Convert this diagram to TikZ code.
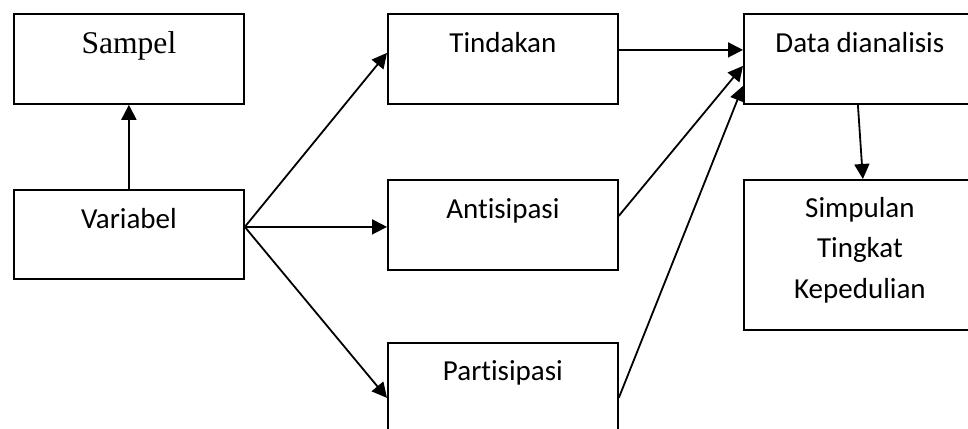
\documentclass[tikz,border=0pt]{standalone}
\usepackage{fontspec}
\setmainfont{Carlito}[Ligatures=NoCommon]
\newfontfamily\serifbox{Liberation Serif}
\usetikzlibrary{arrows.meta,calc}

\begin{document}
\begin{tikzpicture}[x=0.5pt, y=-0.5pt,
		kotak/.style={draw, line width=0.9pt, inner sep=0pt, anchor=north west, minimum width=115pt, minimum height=45pt},
		teks/.style={anchor=base, align=center, inner sep=0pt, font=\fontsize{14.5}{20.25}\selectfont},
		panah/.style={-{Triangle[length=7.5pt, width=7.5pt]}, line width=0.9pt}]
		\useasboundingbox (0, 0) rectangle (968, 428);
	
		% kotak
		\node[kotak] (sampel) at (13, 13) {};
		\node[kotak, minimum height=44.5pt] (variabel) at (13, 189) {};
		\node[kotak] (tindakan) at (387, 13) {};
		\node[kotak] (antisipasi) at (387, 179) {};
		\node[kotak] (partisipasi) at (387, 342) {};
		\node[kotak, minimum width=116pt] (data) at (743, 13) {};
		\node[kotak, minimum width=116pt, minimum height=75pt] (simpulan) at (743, 179) {};
		
		% teks
		\node[teks, font=\serifbox\fontsize{15.8}{19}\selectfont] (tsampel) at ($(sampel.north)+(0, 40)$) {Sampel};
		\node[teks] (tvariabel) at ($(variabel.north)+(0, 39)$) {Variabel};
		\node[teks] (ttindakan) at ($(tindakan.north)+(0, 39)$) {Tindakan};
		\node[teks] (tantisipasi) at ($(antisipasi.north)+(0, 39)$) {Antisipasi};
		\node[teks] (tpartisipasi) at ($(partisipasi.north)+(0, 38)$) {Partisipasi};
		\node[teks] (tdata) at ($(data.north)+(0, 39)$) {Data dianalisis};
		% base = baseline of the last line
		\node[teks] (tsimpulan) at ($(simpulan.north)+(0, 119)$) {Simpulan\\Tingkat\\Kepedulian};
		
		% panah
		\coordinate (cabang) at ($(variabel.east)+(0, -7.5)$);
		\draw[panah] (variabel.north) -- (sampel.south);
		\draw[panah] (cabang) -- ($(tindakan.west)+(0, -6)$);
		\draw[panah] (cabang) -- ($(antisipasi.west)+(0, 2)$);
		\draw[panah] (cabang) -- ($(partisipasi.west)+(0, 10)$);
		
		\draw[panah] ($(tindakan.east)+(0, -9)$) -- ($(data.west)+(0, -9)$);
		\draw[panah] ($(antisipasi.east)+(0, -9)$) -- ($(data.west)+(0, 7)$);
		\draw[panah] ($(partisipasi.east)+(0, 10)$) -- ($(data.west)+(0, 27)$);
		\draw[panah] ($(data.south)+(-2, 0)$) -- ($(simpulan.north)+(3, 0)$);
	\end{tikzpicture}
\end{document}
